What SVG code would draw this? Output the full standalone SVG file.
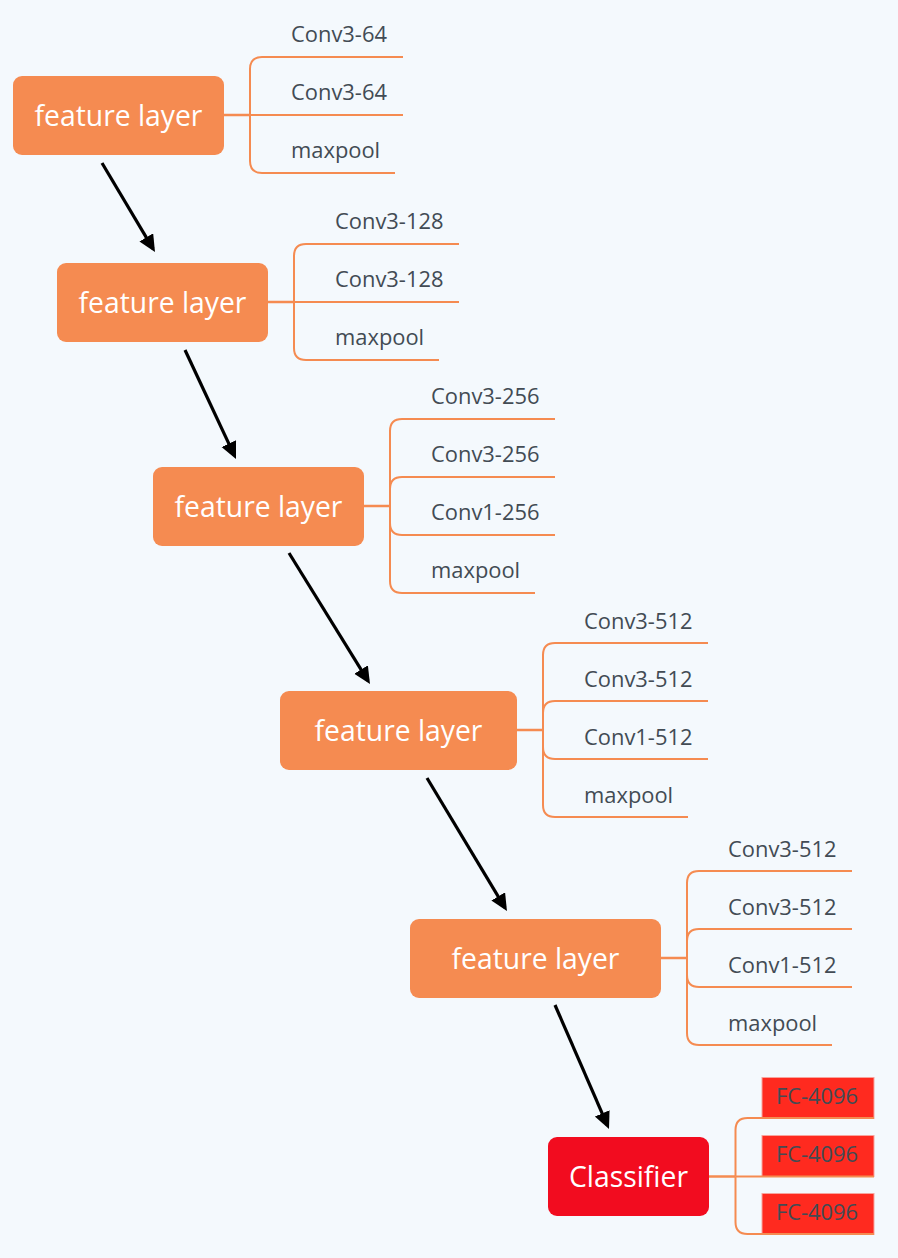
<svg xmlns="http://www.w3.org/2000/svg" width="898" height="1258" viewBox="0 0 898 1258">
<style>
.bg{fill:#f4f9fd}
.node{fill:#f58b51}
.cls{fill:#f20c1f}
.ntext{font-family:"Open Sans","Liberation Sans",sans-serif;font-size:28.3px;fill:#ffffff;text-anchor:middle}
.ctext{font-family:"Open Sans","Liberation Sans",sans-serif;font-size:21.9px;fill:#424b54}
.br{fill:none;stroke:#f58b51;stroke-width:2}
.stem{fill:none;stroke:#f58b51;stroke-width:2.5}
.fc{fill:#ff2a1f;stroke:#f7a59e;stroke-width:1}
.arrow{stroke:#000000;stroke-width:3.2;fill:none}
</style>
<defs>
<marker id="ah" markerUnits="userSpaceOnUse" markerWidth="20" markerHeight="18" refX="13" refY="8" orient="auto">
<path d="M0,0 L17,8 L0,16 z" fill="#000000"/>
</marker>
</defs>
<rect class="bg" x="0" y="0" width="898" height="1258"/>

<g id="connectors">
<line class="arrow" x1="102" y1="163" x2="152.95" y2="248.56" marker-end="url(#ah)"/>
<line class="arrow" x1="185" y1="350" x2="234.3" y2="455.4" marker-end="url(#ah)"/>
<line class="arrow" x1="289" y1="553" x2="367.9" y2="680.6" marker-end="url(#ah)"/>
<line class="arrow" x1="427" y1="778" x2="504.9" y2="907.6" marker-end="url(#ah)"/>
<line class="arrow" x1="555" y1="1005" x2="607.4" y2="1125.3" marker-end="url(#ah)"/>
</g>

<g id="node1">
<rect class="node" x="13" y="76" width="211" height="79" rx="9"/>
<text class="ntext" x="118.5" y="125.5">feature layer</text>
<path class="stem" d="M224,115 H250"/>
<path class="br" d="M250,115 V69 Q250,57 262,57 H403"/>
<path class="br" d="M250,115 H403"/>
<path class="br" d="M250,115 V161 Q250,173 262,173 H395"/>
<text class="ctext" x="291" y="42">Conv3-64</text>
<text class="ctext" x="291" y="100">Conv3-64</text>
<text class="ctext" x="291" y="158">maxpool</text>
</g>

<g id="node2">
<rect class="node" x="57" y="263" width="211" height="79" rx="9"/>
<text class="ntext" x="162.5" y="312.5">feature layer</text>
<path class="stem" d="M268,302 H294"/>
<path class="br" d="M294,302 V256 Q294,244 306,244 H459"/>
<path class="br" d="M294,302 H459"/>
<path class="br" d="M294,302 V348 Q294,360 306,360 H439"/>
<text class="ctext" x="335" y="229">Conv3-128</text>
<text class="ctext" x="335" y="287">Conv3-128</text>
<text class="ctext" x="335" y="345">maxpool</text>
</g>

<g id="node3">
<rect class="node" x="153" y="467" width="211" height="79" rx="9"/>
<text class="ntext" x="258.5" y="516.5">feature layer</text>
<path class="stem" d="M364,506 H390"/>
<path class="br" d="M390,506 V431 Q390,419 402,419 H555"/>
<path class="br" d="M390,506 V489 Q390,477 402,477 H555"/>
<path class="br" d="M390,506 V523 Q390,535 402,535 H555"/>
<path class="br" d="M390,506 V581 Q390,593 402,593 H535"/>
<text class="ctext" x="431" y="404">Conv3-256</text>
<text class="ctext" x="431" y="462">Conv3-256</text>
<text class="ctext" x="431" y="520">Conv1-256</text>
<text class="ctext" x="431" y="578">maxpool</text>
</g>

<g id="node4">
<rect class="node" x="280" y="691" width="237" height="79" rx="9"/>
<text class="ntext" x="398.5" y="740.5">feature layer</text>
<path class="stem" d="M517,730 H543"/>
<path class="br" d="M543,730 V655 Q543,643 555,643 H708"/>
<path class="br" d="M543,730 V713 Q543,701 555,701 H708"/>
<path class="br" d="M543,730 V747 Q543,759 555,759 H708"/>
<path class="br" d="M543,730 V805 Q543,817 555,817 H688"/>
<text class="ctext" x="584" y="629">Conv3-512</text>
<text class="ctext" x="584" y="687">Conv3-512</text>
<text class="ctext" x="584" y="745">Conv1-512</text>
<text class="ctext" x="584" y="803">maxpool</text>
</g>

<g id="node5">
<rect class="node" x="410" y="919" width="251" height="79" rx="9"/>
<text class="ntext" x="535.5" y="968.5">feature layer</text>
<path class="stem" d="M661,958 H687"/>
<path class="br" d="M687,958 V883 Q687,871 699,871 H852"/>
<path class="br" d="M687,958 V941 Q687,929 699,929 H852"/>
<path class="br" d="M687,958 V975 Q687,987 699,987 H852"/>
<path class="br" d="M687,958 V1033 Q687,1045 699,1045 H832"/>
<text class="ctext" x="728" y="857">Conv3-512</text>
<text class="ctext" x="728" y="915">Conv3-512</text>
<text class="ctext" x="728" y="973">Conv1-512</text>
<text class="ctext" x="728" y="1031">maxpool</text>
</g>

<g id="classifier">
<rect class="cls" x="548" y="1137" width="161" height="79" rx="9"/>
<text class="ntext" x="628.5" y="1186.5">Classifier</text>
<path class="stem" d="M709,1176.5 H735.5"/>
<rect class="fc" x="762" y="1077.5" width="112" height="41"/>
<rect class="fc" x="762" y="1135.5" width="112" height="41"/>
<rect class="fc" x="762" y="1193.5" width="112" height="41"/>
<path class="br" d="M735.5,1176.5 V1130 Q735.5,1118 747.5,1118 H874"/>
<path class="br" d="M735.5,1176.5 H874"/>
<path class="br" d="M735.5,1176.5 V1222 Q735.5,1234 747.5,1234 H874"/>
<text class="ctext" x="817" y="1103.5" text-anchor="middle">FC-4096</text>
<text class="ctext" x="817" y="1161.5" text-anchor="middle">FC-4096</text>
<text class="ctext" x="817" y="1219.5" text-anchor="middle">FC-4096</text>
</g>
</svg>
